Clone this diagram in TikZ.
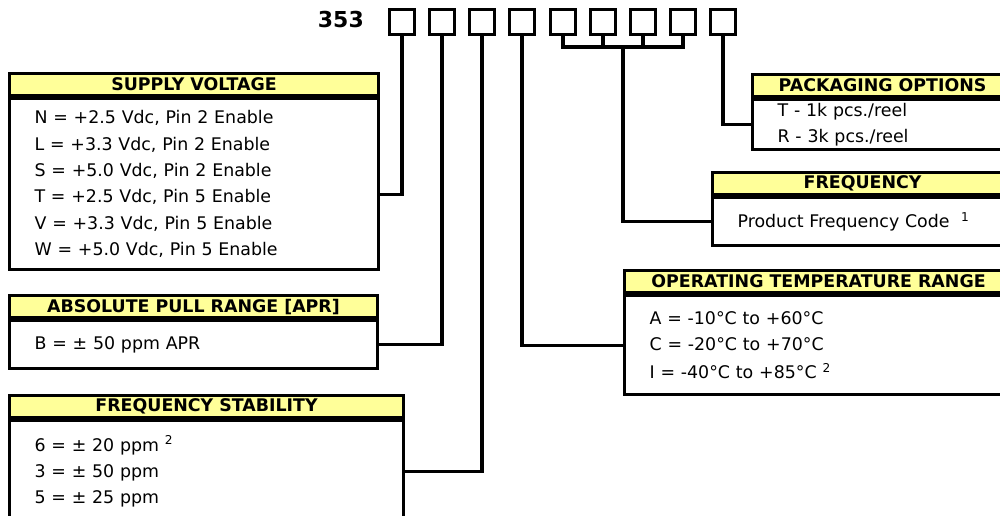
\documentclass[tikz,border=0pt]{standalone}
\usepackage{fontspec}
\setmainfont{DejaVu Sans}
\usetikzlibrary{positioning}
\definecolor{HeadYellow}{HTML}{FFFF99}

\begin{document}
\begin{tikzpicture}[x=0.02cm, y=-0.02cm,
		digit/.style={draw, line width=1.8pt, minimum size=0.5cm, inner sep=0pt},
		head/.style={draw, fill=HeadYellow, line width=1.8pt, anchor=north west,
			minimum height=0.44cm, inner sep=0pt,
			font=\fontsize{9.9}{11}\selectfont\bfseries},
		body/.style={draw, line width=1.8pt, inner xsep=0.5cm, inner ysep=0pt,
			align=left, font=\fontsize{9.9}{15}\selectfont},
		link/.style={line width=1.8pt}
		]
		\useasboundingbox (0,0) rectangle (1000,516);
		% part number code
		\node[anchor=east, font=\fontsize{12.5}{14}\selectfont\bfseries] (code) at (370,20) {353};
		\foreach \i/\x in {1/402,2/442,3/482,4/522,5/563,6/603,7/643,8/683,9/723}
		\node[digit] (d\i) at (\x,22) {};
		
		% left column
		\node[head, minimum width=7.38cm] (suphead) at (8,72) {SUPPLY VOLTAGE};
		\node[body, below=0pt of suphead, text width=6.38cm, minimum height=3.42cm] (supbody)
		{N = +2.5 Vdc, Pin 2 Enable\\ L = +3.3 Vdc, Pin 2 Enable\\ S = +5.0 Vdc, Pin 2 Enable\\
			T = +2.5 Vdc, Pin 5 Enable\\ V = +3.3 Vdc, Pin 5 Enable\\ W = +5.0 Vdc, Pin 5 Enable};
		\node[head, minimum width=7.36cm] (aprhead) at (8,294) {ABSOLUTE PULL RANGE [APR]};
		\node[body, below=0pt of aprhead, text width=6.36cm, minimum height=0.96cm] (aprbody)
		{B = ± 50 ppm APR};
		\node[head, minimum width=7.88cm] (stabhead) at (8,394) {FREQUENCY STABILITY};
		\node[body, below=0pt of stabhead, text width=6.88cm, minimum height=2.04cm] (stabbody)
		{6 = ± 20 ppm\ \textsuperscript{2}\\ 3 = ± 50 ppm\\ 5 = ± 25 ppm};
		
		% right column
		\node[head, minimum width=5.2cm] (packhead) at (751,73) {PACKAGING OPTIONS};
		\node[body, below=0pt of packhead, text width=4.2cm, minimum height=1.0cm] (packbody)
		{T - 1k pcs./reel\\ R - 3k pcs./reel};
		\node[head, minimum width=6.0cm] (freqhead) at (711,171) {FREQUENCY};
		\node[body, below=0pt of freqhead, text width=5.0cm, minimum height=0.96cm] (freqbody)
		{Product Frequency Code\ \ \textsuperscript{1}};
		\node[head, minimum width=7.76cm] (temphead) at (623,269) {OPERATING TEMPERATURE RANGE};
		\node[body, below=0pt of temphead, text width=6.76cm, minimum height=1.98cm] (tempbody)
		{A = -10°C to +60°C\\ C = -20°C to +70°C\\[1pt] I = -40°C to +85°C\ \textsuperscript{2}};
		
		% connectors
		\coordinate (brk) at (623,47);
		\draw[link] (d1.south) |- ([yshift=-0.2cm]supbody.east);
		\draw[link] (d2.south) |- (aprbody.east);
		\draw[link] (d3.south) |- (stabbody.east);
		\draw[link] (d4.south) |- (tempbody.west);
		\draw[link] (d5.south) |- (brk) -| (d8.south);
		\draw[link] (d6.south) -- (d6.south |- brk);
		\draw[link] (d7.south) -- (d7.south |- brk);
		\draw[link] (brk) |- (freqbody.west);
		\draw[link] (d9.south) |- (packbody.west);
	\end{tikzpicture}
\end{document}
